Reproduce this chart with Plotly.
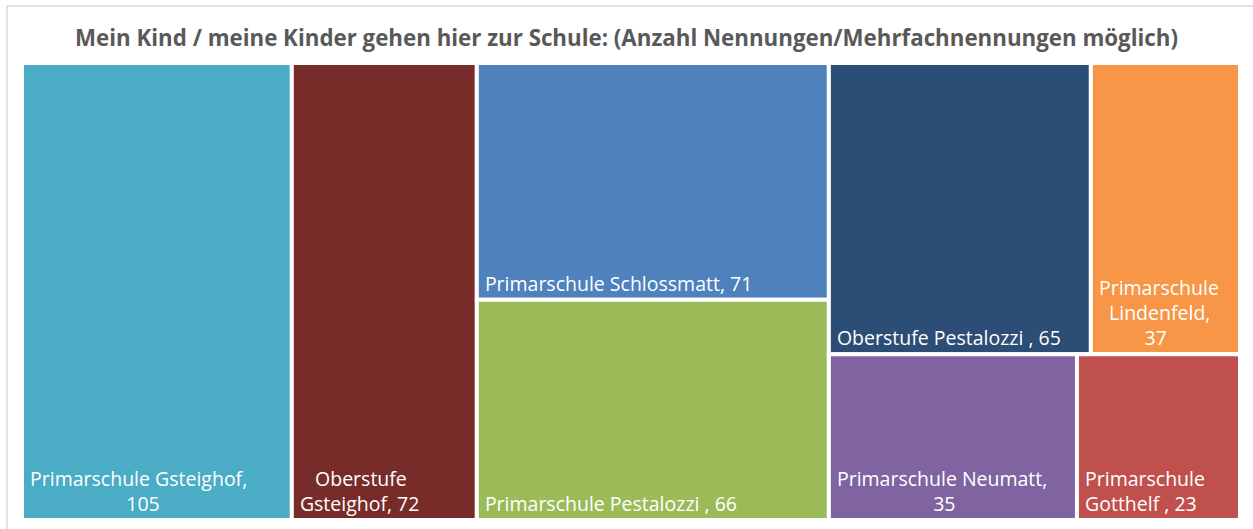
import plotly.graph_objects as go

# Data
schools = ["Primarschule Gsteighof", "Oberstufe Gsteighof", "Primarschule Schlossmatt",
           "Primarschule Pestalozzi ", "Oberstufe Pestalozzi ", "Primarschule Lindenfeld",
           "Primarschule Neumatt", "Primarschule Gotthelf "]
counts = [105, 72, 71, 66, 65, 37, 35, 23]
groups = ["root", "root", "gA", "gA", "rowTop", "rowTop", "rowBot", "rowBot"]
N = "&nbsp;"
label_lines = [["Primarschule Gsteighof,", N * 19 + "105"],
               [N * 3 + "Oberstufe", "Gsteighof, 72"],
               ["Primarschule Schlossmatt, 71"],
               ["Primarschule Pestalozzi , 66"],
               ["Oberstufe Pestalozzi , 65"],
               ["Primarschule", N * 2 + "Lindenfeld,", N * 9 + "37"],
               ["Primarschule Neumatt,", N * 19 + "35"],
               ["Primarschule", "Gotthelf , 23"]]
label_text = ["<br>".join(N + l for l in lines) for lines in label_lines]
colors = ["#4BACC6", "#772C2A", "#4F81BD", "#9BBB59", "#2C4D75", "#F79646", "#8064A2", "#C0504D"]

# layout grouping nodes (invisible)
group_ids = ["root", "gA", "gB", "rowTop", "rowBot"]
group_parents = ["", "root", "root", "gB", "gB"]

ids = group_ids + schools
parents = group_parents + groups
values = [0] * len(group_ids) + counts
texts = [""] * len(group_ids) + label_text
mcolors = ["white"] * len(group_ids) + colors
lwidths = [0] * len(group_ids) + [4] * len(schools)

order = ["root", "Primarschule Gsteighof", "Oberstufe Gsteighof", "gA",
         "Primarschule Schlossmatt", "Primarschule Pestalozzi ", "gB", "rowTop",
         "Oberstufe Pestalozzi ", "Primarschule Lindenfeld", "rowBot",
         "Primarschule Neumatt", "Primarschule Gotthelf "]
idx = [ids.index(o) for o in order]
ids = [ids[i] for i in idx]
parents = [parents[i] for i in idx]
values = [values[i] for i in idx]
texts = [texts[i] for i in idx]
mcolors = [mcolors[i] for i in idx]
lwidths = [lwidths[i] for i in idx]

fig = go.Figure(go.Treemap(
    ids=ids, labels=ids, parents=parents, values=values,
    branchvalues="remainder", sort=False,
    text=texts, textinfo="text",
    textposition="bottom left",
    textfont=dict(family="Open Sans", size=19.5, color="white"),
    marker=dict(colors=mcolors, line=dict(color="white", width=lwidths),
                pad=dict(t=0, l=0, r=0, b=0)),
    tiling=dict(packing="slice-dice", pad=0),
    pathbar=dict(visible=False),
    hoverinfo="skip",
))

W, H = 1253, 529
ml, mr, mt, mb = 22, 13, 63, 9
pw, ph = W - ml - mr, H - mt - mb
bx0, by0 = 7, 6
fig.add_shape(type="rect", xref="paper", yref="paper",
              x0=(bx0 - ml) / pw, x1=(W + 5 - ml) / pw,
              y0=1 - (H + 5 - mt) / ph, y1=1 - (by0 - mt) / ph,
              line=dict(color="#D9D9D9", width=1.5), layer="below")

fig.update_layout(
    width=W, height=H,
    margin=dict(l=ml, r=mr, t=mt, b=mb),
    paper_bgcolor="white",
    title=dict(text="<b>Mein Kind / meine Kinder gehen hier zur Schule: (Anzahl Nennungen/Mehrfachnennungen möglich)</b>",
               x=0.5, xanchor="center", y=1 - 38 / H, yanchor="middle",
               font=dict(family="Open Sans", size=22.3, color="#595959")),
)

fig.write_html("out.html", config={"displayModeBar": False},
               post_script="document.body.style.margin='0px';document.body.style.overflow='hidden';")
